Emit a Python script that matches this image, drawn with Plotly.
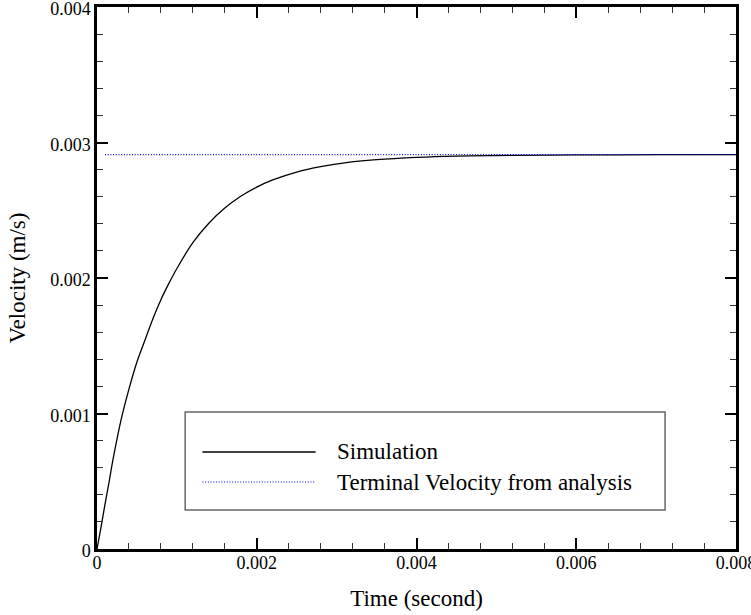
import plotly.graph_objects as go

# Simulation: velocity (m/s) vs time (s)
sim_t = [0, 0.00005, 0.0001, 0.00015, 0.0002, 0.0003, 0.0004, 0.0005, 0.0006,
         0.0007, 0.0008, 0.0009, 0.001, 0.0012, 0.0014, 0.0016, 0.0018, 0.002,
         0.0022, 0.0025, 0.0028, 0.0031, 0.0035, 0.004, 0.0045, 0.005, 0.006,
         0.007, 0.008]
sim_v = [0, 0.00016, 0.00033, 0.00049, 0.00066, 0.00095, 0.00118, 0.00138, 0.00154,
         0.00170, 0.00184, 0.00196, 0.00207, 0.002261, 0.002404, 0.002516, 0.002603,
         0.002671, 0.002724, 0.002782, 0.002822, 0.00285, 0.002873, 0.00289, 0.0029,
         0.002904, 0.002908, 0.00291, 0.00291]

# Terminal velocity from analysis
term_t = [0.0001, 0.008]
term_v = [0.00291, 0.00291]

x_ticks = [0, 0.002, 0.004, 0.006, 0.008]
x_labels = ["0", "0.002", "0.004", "0.006", "0.008"]
y_ticks = [0, 0.001, 0.002, 0.003, 0.004]
y_labels = ["0", "0.001", "0.002", "0.003", "0.004"]

legend_names = ["Simulation", "Terminal Velocity from analysis"]

FONT = "Liberation Serif"

fig = go.Figure()
fig.add_trace(go.Scatter(x=sim_t, y=sim_v, mode="lines", name=legend_names[0],
                         line=dict(color="black", width=1.3, shape="spline"),
                         showlegend=False))
fig.add_trace(go.Scatter(x=term_t, y=term_v, mode="lines", name=legend_names[1],
                         line=dict(color="#0000ff", width=1.2, dash="1px,1.7px"),
                         showlegend=False))

axis_common = dict(
    showgrid=False, zeroline=False, showline=True, linecolor="black", linewidth=2.5,
    mirror="allticks", ticks="inside", ticklen=11, tickwidth=2, tickcolor="black",
    tickfont=dict(family=FONT, size=18, color="black"), automargin=False,
    ticklabeloverflow="allow",
)

fig.update_xaxes(range=[0, 0.008], tickvals=x_ticks, ticktext=x_labels,
                 ticklabelstandoff=-4,
                 minor=dict(dtick=0.0004, tick0=0, ticks="inside", ticklen=6,
                            tickwidth=1, tickcolor="#333"),
                 title=dict(text="Time (second)", font=dict(family=FONT, size=23, color="black"),
                            standoff=18),
                 **axis_common)
fig.update_yaxes(range=[0, 0.004], tickvals=y_ticks, ticktext=y_labels,
                 ticklabelshift=2,
                 minor=dict(dtick=0.0002, tick0=0, ticks="inside", ticklen=6,
                            tickwidth=1, tickcolor="#333"),
                 title=dict(text="Velocity (m/s)", font=dict(family=FONT, size=23, color="black"),
                            standoff=19),
                 **axis_common)

# Custom legend box (paper coordinates)
fig.add_shape(type="rect", xref="paper", yref="paper", x0=0.138, x1=0.889, y0=0.072, y1=0.2528,
              line=dict(color="#666", width=1.5), fillcolor="white", layer="above")
fig.add_shape(type="line", xref="paper", yref="paper", x0=0.165, x1=0.342, y0=0.179, y1=0.179,
              line=dict(color="black", width=1.3), layer="above")
fig.add_shape(type="line", xref="paper", yref="paper", x0=0.165, x1=0.342, y0=0.1236, y1=0.1236,
              line=dict(color="#0000ff", width=1.2, dash="1px,1.7px"), layer="above")
for name, yy in zip(legend_names, [0.179, 0.1236]):
    fig.add_annotation(text=name, xref="paper", yref="paper", x=0.372, y=yy,
                       xanchor="left", yanchor="middle", showarrow=False,
                       font=dict(family=FONT, size=23, color="black"))

fig.update_layout(
    template="none",
    width=751, height=615,
    margin=dict(l=97, r=15, t=7, b=66),
    paper_bgcolor="white", plot_bgcolor="white",
    showlegend=False,
)

fig.write_html("out.html", config={"displayModeBar": False},
               post_script="document.body.style.margin='0';document.body.style.padding='0';")
